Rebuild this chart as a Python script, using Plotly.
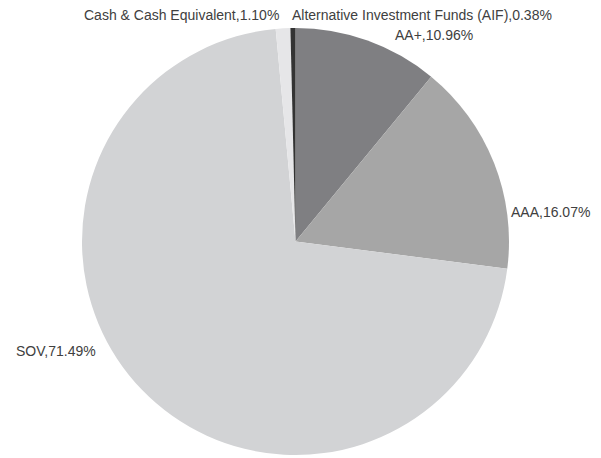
import plotly.graph_objects as go

labels = ["AA+", "AAA", "SOV", "Cash & Cash Equivalent", "Alternative Investment Funds (AIF)"]
values = [10.96, 16.07, 71.49, 1.10, 0.38]
colors = ["#7f7f82", "#a6a6a6", "#d2d3d5", "#e6e6e8", "#333333"]

# page body has an 8px default margin; the figure is sized to fit inside it
OFF = 8
W, H = 601 - OFF, 458 - OFF


def px_x(x):
    return (x - OFF) / W


def px_y(y):
    return 1 - (y - OFF) / H


fig = go.Figure(go.Pie(
    labels=labels, values=values, sort=False, direction="clockwise", rotation=0,
    marker=dict(colors=colors, line=dict(width=0)),
    textinfo="none", hoverinfo="label+percent",
    domain=dict(x=[px_x(82), px_x(509)], y=[px_y(455), px_y(28)]),
    showlegend=False,
))

# label placements (pixel anchors)
label_pos = [
    (393, 35, "left"),
    (592, 212, "right"),
    (14, 351, "left"),
    (281, 15, "right"),
    (290, 15, "left"),
]
for lab, val, (px, py, anc) in zip(labels, values, label_pos):
    fig.add_annotation(
        x=px_x(px), y=px_y(py), xref="paper", yref="paper",
        text=f"{lab},{val:.2f}%", showarrow=False, xanchor=anc, yanchor="middle",
        font=dict(family="Liberation Sans, Arial, sans-serif", size=14, color="#404040"),
    )

fig.update_layout(
    width=W, height=H, margin=dict(l=0, r=0, t=0, b=0),
    paper_bgcolor="white", plot_bgcolor="white",
)
fig.write_html("out.html")
